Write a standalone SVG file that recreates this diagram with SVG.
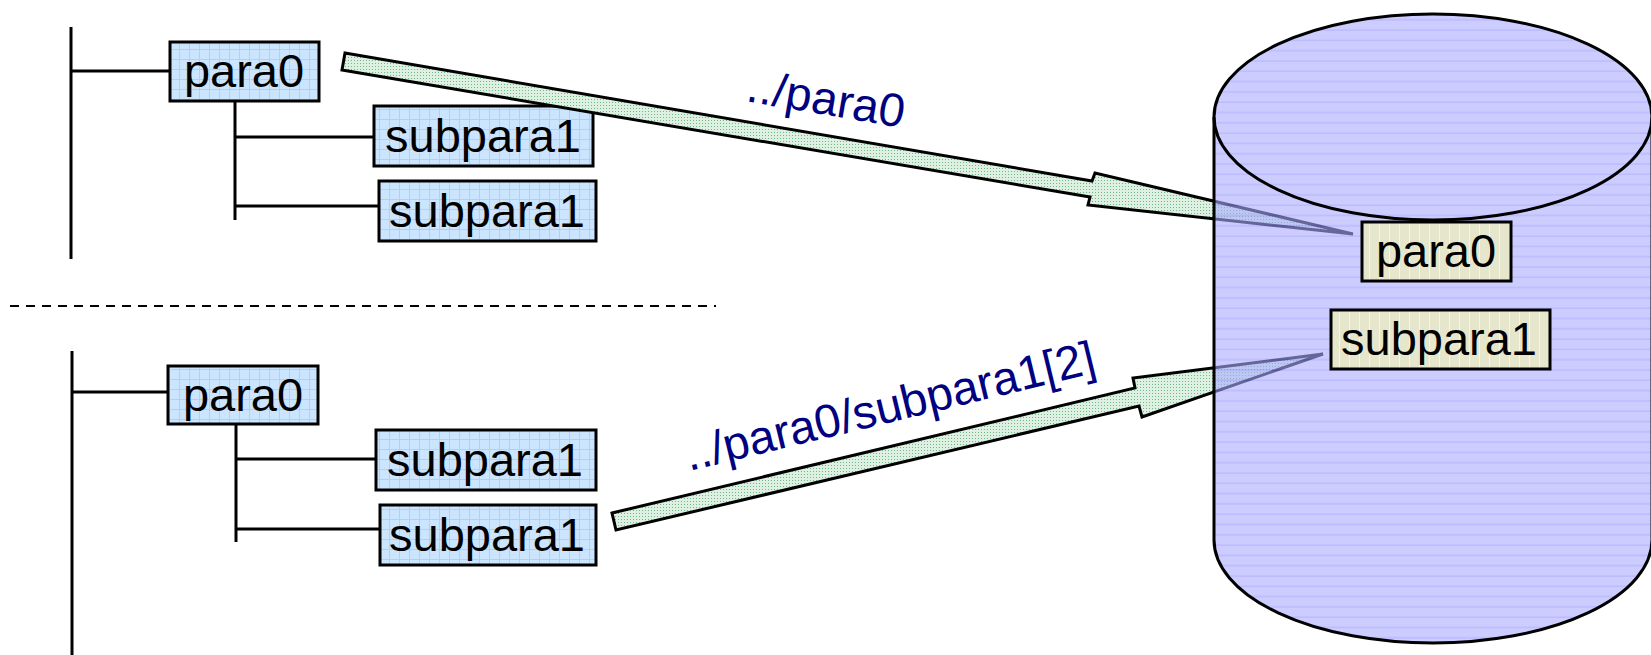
<svg xmlns="http://www.w3.org/2000/svg" width="1651" height="655" viewBox="0 0 1651 655">
<defs>
<pattern id="gridBlue" width="10" height="10" patternUnits="userSpaceOnUse">
<rect width="10" height="10" fill="#CCE5FF"/>
<path d="M9.5,0V10M0,9.5H10" stroke="#A8D2FF" stroke-width="1"/>
</pattern>
<pattern id="gridBeige" width="10" height="10" patternUnits="userSpaceOnUse">
<rect width="10" height="10" fill="#E6E6CC"/>
<path d="M9.5,0V10" stroke="#FFFF99" stroke-width="1"/>
</pattern>
<pattern id="dotsGreen" width="3" height="3" patternUnits="userSpaceOnUse">
<rect width="3" height="3" fill="#DDF0E2"/>
<rect width="1" height="1" fill="#6FB888"/>
</pattern>
<pattern id="stripes" width="10" height="10.3" patternUnits="userSpaceOnUse">
<rect width="10" height="10.3" fill="#AAAAFF"/>
<rect y="9" width="10" height="1" fill="#7F7FFF"/>
</pattern>
</defs>
<style>
.ln{stroke:#000;stroke-width:3;fill:none}
.box{fill:url(#gridBlue);stroke:#000;stroke-width:3}
.beige{fill:url(#gridBeige);stroke:#000;stroke-width:3}
.t{font-family:"Liberation Sans",Arial,sans-serif;font-size:47px;fill:#000;text-anchor:middle}
.lab{font-family:"Liberation Sans",Arial,sans-serif;font-size:47px;fill:#000080}
.arr{fill:url(#dotsGreen);stroke:#000;stroke-width:3;stroke-linejoin:miter}
</style>

<g id="tree-lines">
<path class="ln" d="M71,27V259M72,71H170M235,101V220M235,137H374M235,206H379"/>
<path class="ln" d="M72,351V655M72,392H168M236,424V542M236,459H376M236,529H380"/>
<line x1="10" y1="306" x2="716" y2="306" stroke="#000" stroke-width="2" stroke-dasharray="9,7"/>
</g>

<g id="node-top-para0"><rect class="box" x="170" y="42" width="149" height="59"/><text class="t" x="244" y="87">para0</text></g>
<g id="node-top-sub1"><rect class="box" x="374" y="106" width="219" height="60"/><text class="t" x="483" y="152">subpara1</text></g>
<g id="node-top-sub2"><rect class="box" x="379" y="181" width="217" height="60"/><text class="t" x="487" y="227">subpara1</text></g>
<g id="node-bot-para0"><rect class="box" x="168" y="366" width="150" height="58"/><text class="t" x="243" y="411">para0</text></g>
<g id="node-bot-sub1"><rect class="box" x="376" y="430" width="220" height="60"/><text class="t" x="485" y="476">subpara1</text></g>
<g id="node-bot-sub2"><rect class="box" x="380" y="505" width="216" height="60"/><text class="t" x="487" y="551">subpara1</text></g>

<g id="connectors">
<polygon class="arr" points="345,53 1092,181 1095,173 1353,234 1088,205 1090,197 342,70"/>
<polygon class="arr" points="612,513 1135,388 1133,378 1323,354 1142,417 1139,406 616,530"/>
<text class="lab" transform="translate(745,101) rotate(9.7)">../para0</text>
<text class="lab" transform="translate(689,471) rotate(-13.6)">../para0/subpara1[2]</text>
</g>

<g id="cylinder">
<path d="M1214,117 A219,103 0 0 1 1652,117 V540 A219,103 0 0 1 1214,540 Z" fill="url(#stripes)" fill-opacity="0.6" stroke="#000" stroke-width="3"/>
<path d="M1214,117 A219,103 0 0 0 1652,117" class="ln"/>
</g>

<g id="node-db-para0"><rect class="beige" x="1362" y="222" width="149" height="59"/><text class="t" x="1436" y="267">para0</text></g>
<g id="node-db-sub1"><rect class="beige" x="1331" y="310" width="219" height="59"/><text class="t" x="1439" y="355">subpara1</text></g>
</svg>
